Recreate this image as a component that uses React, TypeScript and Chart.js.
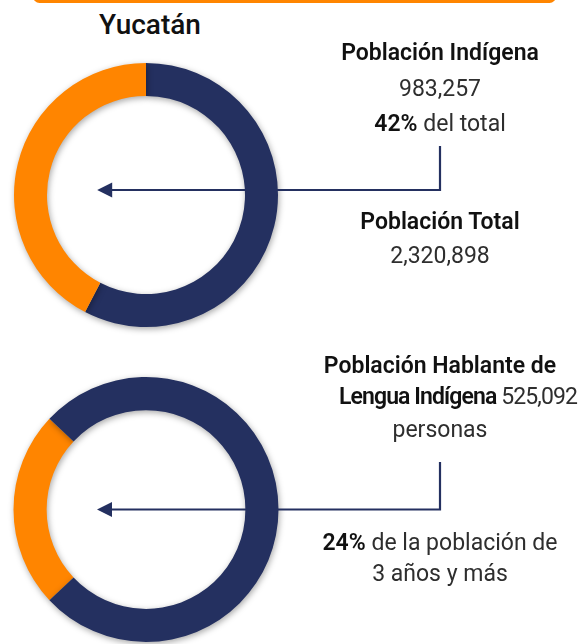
import React, { useEffect, useRef } from "react";
import { Chart, registerables } from "chart.js";

Chart.register(...registerables);

const NAVY = "#243060";
const ORANGE = "#FF8500";

const stateName = "Yucatán";
const popLabels = ["Resto de la población", "Población Indígena"];
const popValues = [2320898 - 983257, 983257];
const popIndigenousText = "983,257";
const popTotalText = "2,320,898";
const popPctText = "42%";

const langLabels = ["Hablante de Lengua Indígena", "Resto de la población de 3 años y más"];
const langValues = [24, 76];
const langSpeakersText = "525,092";
const langPctText = "24%";

const shadowPlugin = {
  id: "ringShadow",
  beforeDatasetDraw(chart: any) {
    const ctx = chart.ctx;
    ctx.save();
    ctx.shadowColor = "rgba(0,0,0,0.35)";
    ctx.shadowBlur = 6;
    ctx.shadowOffsetX = 1;
    ctx.shadowOffsetY = 2;
  },
  afterDatasetDraw(chart: any) {
    chart.ctx.restore();
  },
};

const arrowPlugin = {
  id: "arrowLink",
  afterDraw(chart: any, _args: any, opts: any) {
    const meta = chart.getDatasetMeta(0);
    const arc = meta.data[0];
    if (!arc) return;
    const cx = arc.x;
    const cy = arc.y + (opts.dy || 0);
    const r = arc.outerRadius;
    const ctx = chart.ctx;
    const tipX = cx - r * 0.37;
    const headLen = 15;
    const headHalf = 7.5;
    ctx.save();
    ctx.strokeStyle = NAVY;
    ctx.fillStyle = NAVY;
    ctx.lineWidth = 2.2;
    ctx.beginPath();
    ctx.moveTo(opts.x, opts.top);
    ctx.lineTo(opts.x, cy);
    ctx.lineTo(tipX + headLen - 1, cy);
    ctx.stroke();
    ctx.beginPath();
    ctx.moveTo(tipX, cy);
    ctx.lineTo(tipX + headLen, cy - headHalf);
    ctx.lineTo(tipX + headLen, cy + headHalf);
    ctx.closePath();
    ctx.fill();
    ctx.restore();
  },
};

function Ring(props: {
  labels: string[];
  values: number[];
  colors: string[];
  rotation: number;
  top: number;
  height: number;
  padTop: number;
  padBottom: number;
  arrowTop: number;
  arrowDy: number;
}) {
  const ref = useRef<HTMLCanvasElement | null>(null);
  useEffect(() => {
    if (!ref.current) return;
    const chart = new Chart(ref.current, {
      type: "doughnut",
      data: {
        labels: props.labels,
        datasets: [
          {
            data: props.values,
            backgroundColor: props.colors,
            borderWidth: 0,
          },
        ],
      },
      options: {
        animation: false,
        responsive: false,
        cutout: "75%",
        rotation: props.rotation,
        layout: {
          padding: { left: 13, right: 579 - 279, top: props.padTop, bottom: props.padBottom },
        },
        plugins: {
          legend: { display: false },
          tooltip: { enabled: false },
          arrowLink: { x: 440, top: props.arrowTop, dy: props.arrowDy },
        } as any,
      },
      plugins: [shadowPlugin, arrowPlugin],
    });
    return () => chart.destroy();
  }, []);
  return (
    <canvas
      ref={ref}
      width={579}
      height={props.height}
      style={{ position: "absolute", left: 0, top: props.top, width: 579, height: props.height }}
    />
  );
}

const FONT = "Roboto, 'Open Sans', sans-serif";

function Line(props: { y: number; cx?: number; children: any; size?: number; weight?: number; ls?: number }) {
  const cx = props.cx ?? 440;
  return (
    <div
      style={{
        position: "absolute",
        left: cx - 200,
        width: 400,
        top: props.y - 16,
        height: 32,
        lineHeight: "32px",
        textAlign: "center",
        fontFamily: FONT,
        fontSize: props.size ?? 23,
        fontWeight: props.weight ?? 400,
        letterSpacing: props.ls ?? 0,
        color: "#2e2e2e",
        whiteSpace: "nowrap",
      }}
    >
      {props.children}
    </div>
  );
}

const B = (p: { children: any }) => (
  <span style={{ fontWeight: 600, color: "#111" }}>{p.children}</span>
);

export default function App() {
  return (
    <div
      style={{
        position: "absolute",
        left: 0,
        top: 0,
        width: 579,
        height: 644,
        overflow: "hidden",
        background: "#fff",
      }}
    >
      <div
        style={{
          position: "absolute",
          left: 33,
          top: -10,
          width: 523,
          height: 13,
          borderRadius: 8,
          background: ORANGE,
        }}
      />
      <Line y={25} cx={150} size={28} weight={500}>
        <span style={{ color: "#111" }}>{stateName}</span>
      </Line>
      <Ring
        labels={popLabels}
        values={popValues}
        colors={[NAVY, ORANGE]}
        rotation={0}
        top={0}
        height={340}
        padTop={63}
        padBottom={340 - 327}
        arrowTop={146}
        arrowDy={-5}
      />
      <Ring
        labels={langLabels}
        values={langValues}
        colors={[ORANGE, NAVY]}
        rotation={270 - (langValues[0] / (langValues[0] + langValues[1])) * 180}
        top={340}
        height={304}
        padTop={37}
        padBottom={304 - 302}
        arrowTop={122}
        arrowDy={0}
      />
      <Line y={53}><B>Población Indígena</B></Line>
      <Line y={89}>{popIndigenousText}</Line>
      <Line y={124}><B>{popPctText}</B> del total</Line>
      <Line y={222}><B>Población Total</B></Line>
      <Line y={256}>{popTotalText}</Line>
      <Line y={366}><B>Población Hablante de</B></Line>
      <Line y={397} cx={458} ls={-0.9}><B>Lengua Indígena</B> {langSpeakersText}</Line>
      <Line y={430}>personas</Line>
      <Line y={543}><B>{langPctText}</B> de la población de</Line>
      <Line y={574}>3 años y más</Line>
    </div>
  );
}
